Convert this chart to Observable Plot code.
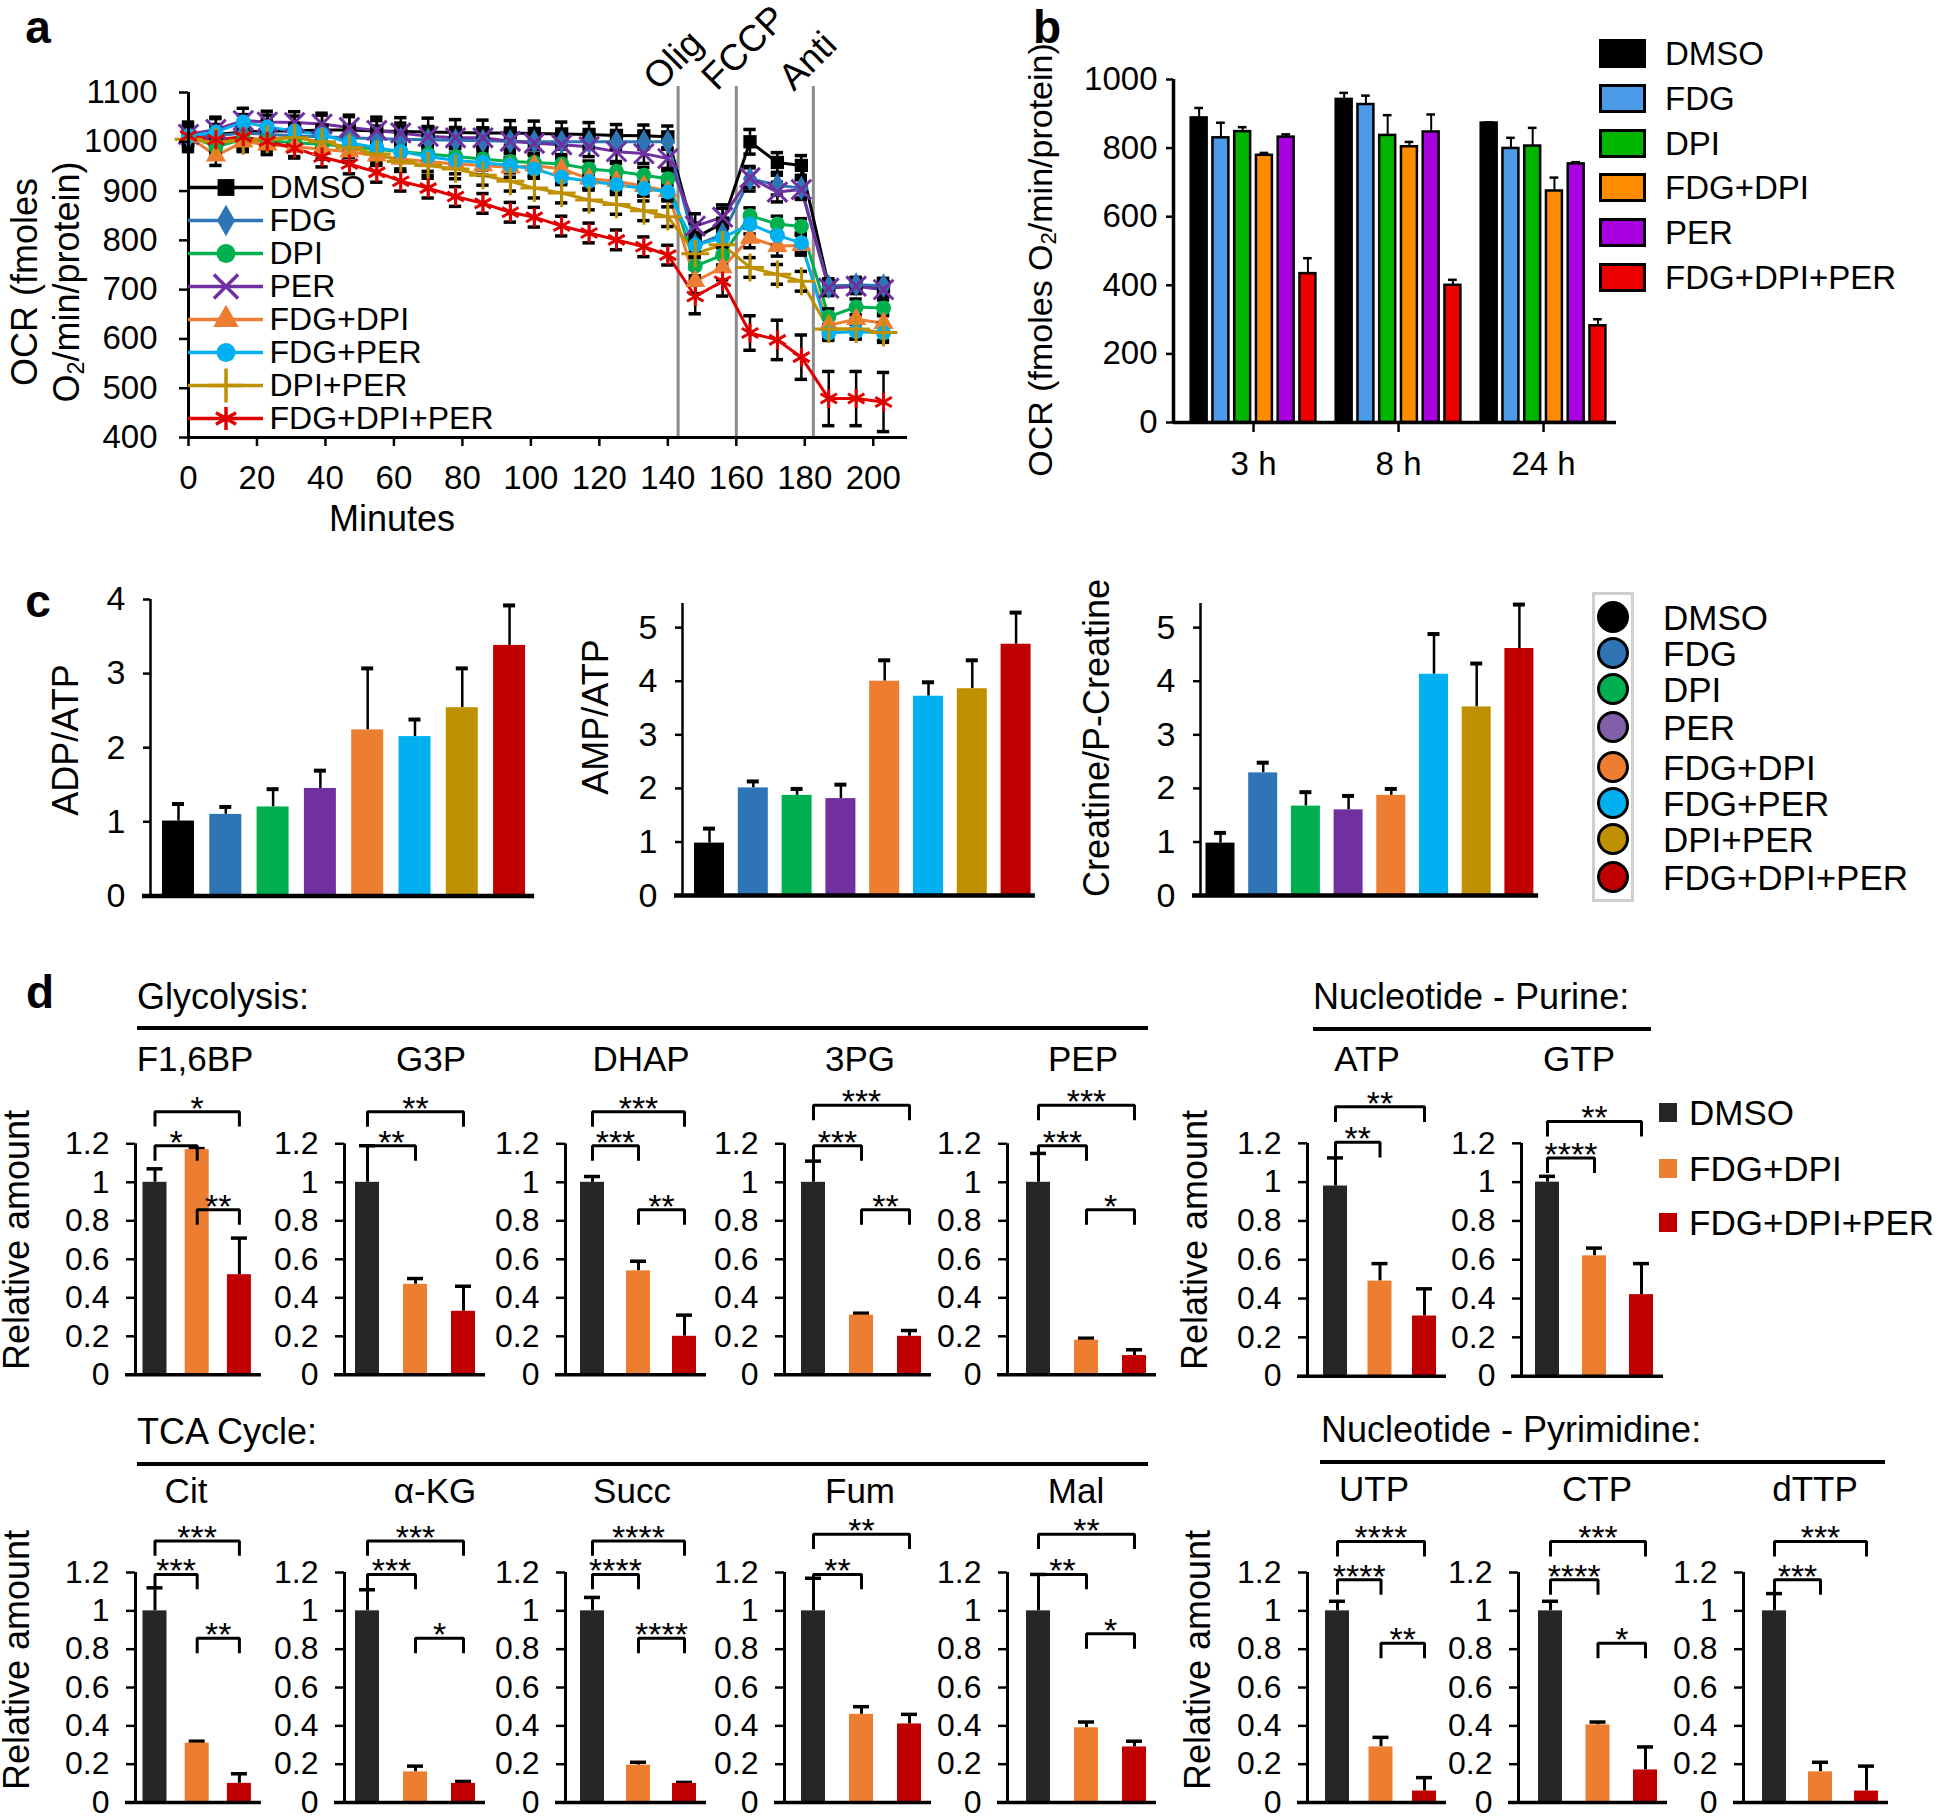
<!DOCTYPE html>
<html><head><meta charset="utf-8">
<script src="https://cdn.jsdelivr.net/npm/d3@7"></script>
<script src="https://cdn.jsdelivr.net/npm/@observablehq/plot@0.6"></script>
<style>
html,body{margin:0;padding:0;background:#fff;}
#root{position:relative;width:1946px;height:1817px;background:#fff;font-family:"Liberation Sans",Arial,Helvetica,sans-serif;color:#000;overflow:hidden;}
.abs{position:absolute;white-space:nowrap;line-height:1;}
sub{font-size:0.65em;vertical-align:-0.2em;line-height:0;}
</style></head><body><div id="root"></div>
<script>
// ================= DATA =================
// ---- Panel a : OCR time course ----
const timesA = [0,8,16,23,31,39,47,55,62,70,78,86,94,101,109,117,125,133,140,148,156,164,172,179,187,195,203];
const seriesA = ["DMSO","FDG","DPI","PER","FDG+DPI","FDG+PER","DPI+PER","FDG+DPI+PER"];
const ocrDMSO      = [1010,1015,1020,1022,1022,1024,1024,1022,1021,1020,1019,1018,1018,1017,1016,1015,1013,1012,1010,805,835,1000,958,952,707,708,706];
const ocrFDG       = [1010,1012,1018,1015,1012,1010,1008,1006,1005,1004,1003,1002,1001,1000,1000,1000,1000,1000,1000,790,812,925,912,906,706,710,708];
const ocrDPI       = [1012,990,1005,1002,998,995,990,985,980,975,970,965,960,958,955,945,940,932,925,748,770,850,833,828,645,665,663];
const ocrPER       = [1015,1025,1043,1040,1039,1036,1029,1023,1018,1011,1008,1008,1001,997,994,990,980,976,966,829,847,927,898,903,703,707,700];
const ocrFDGDPI    = [1010,972,1000,994,990,985,980,972,965,960,955,952,948,952,945,925,920,910,900,717,745,805,788,790,628,640,632];
const ocrFDGPER    = [1012,1020,1040,1030,1022,1015,998,988,980,970,962,958,952,945,928,920,913,905,898,790,805,833,810,795,612,615,612];
const ocrDPIPER    = [1005,1000,1002,1005,1008,1000,988,975,960,952,945,932,920,906,896,882,873,860,848,773,791,745,731,717,620,620,613];
const ocrFDGDPIPER = [1012,1004,1010,1001,987,969,955,938,920,906,889,875,857,847,829,815,801,787,770,686,717,612,598,563,479,479,472];
const errDMSO      = [30,35,35,32,30,30,30,28,28,28,26,26,25,25,24,24,22,22,22,30,30,25,20,20,15,15,15];
const errFDG       = [18,18,20,18,18,16,16,16,16,15,15,15,15,15,15,15,15,15,15,25,25,25,20,20,15,15,15];
const errDPI       = [16,16,16,16,16,16,16,16,16,16,16,16,16,16,16,16,16,16,16,20,20,16,16,16,16,16,16];
const errPER       = [20,22,25,22,22,22,22,20,20,20,20,20,20,20,20,20,20,20,20,25,25,20,20,20,15,15,15];
const errFDGDPI    = [20,20,20,20,20,20,20,20,20,20,20,20,20,20,20,20,20,20,20,25,25,20,20,20,20,20,20];
const errFDGPER    = [15,15,15,15,15,15,15,15,15,15,15,15,15,15,15,15,15,15,15,20,20,20,20,20,15,15,15];
const errDPIPER    = [20,20,20,20,20,20,20,20,20,20,20,20,20,20,20,20,20,20,20,25,25,20,20,20,20,20,20];
const errFDGDPIPER = [20,20,20,20,20,20,20,20,20,20,20,20,20,20,20,20,20,20,20,35,30,35,40,45,55,55,60];
const injections = ["Olig","FCCP","Anti"];
const injectionTimes = [143,160,182.5];
const ticksAX = [0,20,40,60,80,100,120,140,160,180,200];
const ticksAY = [400,500,600,700,800,900,1000,1100];

// ---- Panel b : OCR at 3/8/24 h ----
const groupsB = ["3 h","8 h","24 h"];
const seriesB = ["DMSO","FDG","DPI","FDG+DPI","PER","FDG+DPI+PER"];
const ocrB3h  = [888,830,848,779,832,434];
const ocrB8h  = [942,927,837,804,847,400];
const ocrB24h = [873,799,806,675,754,282];
const errB3h  = [29,44,13,7,8,45];
const errB8h  = [19,26,59,14,51,16];
const errB24h = [2,31,53,39,5,19];
const ticksB = [0,200,400,600,800,1000];

// ---- Panel c : energy ratios ----
const seriesC = ["DMSO","FDG","DPI","PER","FDG+DPI","FDG+PER","DPI+PER","FDG+DPI+PER"];
const adpAtp      = [1.01,1.10,1.20,1.45,2.24,2.15,2.54,3.38];
const adpAtpErr   = [0.23,0.10,0.24,0.24,0.83,0.23,0.53,0.54];
const ampAtp      = [0.98,2.01,1.87,1.81,4.00,3.72,3.86,4.69];
const ampAtpErr   = [0.27,0.12,0.12,0.26,0.39,0.26,0.53,0.59];
const creatine    = [0.98,2.29,1.67,1.60,1.87,4.13,3.52,4.61];
const creatineErr = [0.19,0.19,0.26,0.26,0.12,0.75,0.81,0.82];
const ticksC1 = [0,1,2,3,4];
const ticksC2 = [0,1,2,3,4,5];

// ---- Panel d : metabolites ----
const seriesD = ["DMSO","FDG+DPI","FDG+DPI+PER"];
const metabolites = ["F1,6BP","G3P","DHAP","3PG","PEP","ATP","GTP","Cit","α-KG","Succ","Fum","Mal","UTP","CTP","dTTP"];
const relDMSO   = [1.00,1.00,1.00,1.00,1.00,0.98,1.00,1.00,1.00,1.00,1.00,1.00,1.00,1.00,1.00];
const relFD     = [1.17,0.47,0.54,0.31,0.18,0.49,0.62,0.31,0.16,0.195,0.46,0.39,0.29,0.405,0.16];
const relFDP    = [0.52,0.33,0.20,0.20,0.10,0.31,0.42,0.10,0.10,0.10,0.41,0.29,0.06,0.17,0.06];
const errDDMSO  = [0.07,0.19,0.03,0.11,0.15,0.145,0.03,0.12,0.11,0.07,0.17,0.19,0.05,0.05,0.09];
const errDFD    = [0.005,0.03,0.05,0.01,0.01,0.09,0.04,0.01,0.03,0.015,0.04,0.03,0.05,0.015,0.05];
const errDFDP   = [0.19,0.13,0.11,0.03,0.03,0.14,0.16,0.05,0.01,0.005,0.05,0.03,0.07,0.12,0.13];
const sigTop    = ["*","**","***","***","***","**","**","***","***","****","**","**","****","***","***"];
const sigMid    = ["*","**","***","***","***","**","****","***","***","****","**","**","****","****","***"];
const sigLow    = ["**","","**","**","*","","","**","*","****","","*","**","*",""];
const ticksD = [0,0.2,0.4,0.6,0.8,1,1.2];

// ================= STYLE / LAYOUT =================
const FONT = '"Liberation Sans", Arial, Helvetica, sans-serif';
const colorsA = ["#000000","#2e75b6","#00b050","#7030a0","#ed7d31","#00b0f0","#bf9000","#e00000"];
const symbolsA = ["square","diamond","circle","times","triangle","circle","plus","asterisk"];
const filledA = [true,true,true,false,true,true,false,false];
const colorsB = ["#000000","#4b9be8","#00b400","#ff8c00","#a900e0","#ee0000"];
const colorsC = ["#000000","#2e75b6","#00b050","#7030a0","#ed7d31","#00b0f0","#bf9000","#c00000"];
const legendCFill = ["#000000","#2e75b6","#00b050","#8060a8","#ed7d31","#00b0f0","#bf9000","#c00000"];
const colorsD = ["#262626","#ed7d31","#c00000"];

const root = document.getElementById("root");
function mount(svg, left, top, fontSize) {
  svg.style.background = "transparent";
  svg.style.overflow = "visible";
  svg.style.maxWidth = "none";
  svg.style.position = "absolute";
  svg.style.left = left + "px";
  svg.style.top = top + "px";
  svg.style.fontFamily = FONT;
  svg.style.fontSize = fontSize + "px";
  root.appendChild(svg);
}
function txt(html, x, y, o = {}) {
  const d = document.createElement("div");
  d.className = "abs";
  d.innerHTML = html;
  d.style.left = x + "px"; d.style.top = y + "px";
  d.style.fontSize = (o.size || 35) + "px";
  d.style.fontWeight = o.weight || "normal";
  const a = o.anchor || "middle";
  const tx = a === "start" ? "0" : a === "end" ? "-100%" : "-50%";
  d.style.transform = `translate(${tx},-50%)` + (o.rotate ? ` rotate(${o.rotate}deg)` : "");
  root.appendChild(d);
  return d;
}
function box(x, y, w, h, css) {
  const d = document.createElement("div");
  d.style.position = "absolute";
  d.style.left = x + "px"; d.style.top = y + "px";
  d.style.width = w + "px"; d.style.height = h + "px";
  d.style.boxSizing = "border-box";
  Object.assign(d.style, css);
  root.appendChild(d);
  return d;
}
const hasAxisMarks = typeof Plot.axisY === "function";
function axisY(ticks, o) { return hasAxisMarks ? [Plot.axisY(ticks, {label: null, tickFormat: d => String(d), ...o})] : []; }
function axisX(ticks, o) { return hasAxisMarks ? [Plot.axisX(ticks, {label: null, ...o})] : []; }

// ================= PANEL a =================
{
  const ocrA = [ocrDMSO,ocrFDG,ocrDPI,ocrPER,ocrFDGDPI,ocrFDGPER,ocrDPIPER,ocrFDGDPIPER];
  const errA = [errDMSO,errFDG,errDPI,errPER,errFDGDPI,errFDGPER,errDPIPER,errFDGDPIPER];
  const rows = seriesA.map((s, si) => timesA.map((t, i) => ({s, t, v: ocrA[si][i], e: errA[si][i]})));
  const all = rows.flat();
  const inj = injections.map((label, i) => ({label, t: injectionTimes[i]}));
  const marks = [
    Plot.ruleX(inj, {x: "t", y1: 400, y2: 1112, stroke: "#8c8c8c", strokeWidth: 3}),
    Plot.text(inj, {x: "t", y: 1112, text: "label", rotate: -45, textAnchor: "start", fontSize: 37, dx: -28, dy: -3}),
  ];
  rows.forEach((r, si) => marks.push(Plot.line(r, {x: "t", y: "v", stroke: colorsA[si], strokeWidth: 3})));
  marks.push(Plot.ruleX(all, {x: "t", y1: d => d.v - d.e, y2: d => d.v + d.e, stroke: "#000", strokeWidth: 2.5}));
  marks.push(Plot.ruleY(all, {y: d => d.v - d.e, x1: d => d.t - 1.8, x2: d => d.t + 1.8, stroke: "#000", strokeWidth: 3.5}));
  marks.push(Plot.ruleY(all, {y: d => d.v + d.e, x1: d => d.t - 1.8, x2: d => d.t + 1.8, stroke: "#000", strokeWidth: 3.5}));
  rows.forEach((r, si) => marks.push(Plot.dot(r, filledA[si]
    ? {x: "t", y: "v", symbol: symbolsA[si], r: 7.5, fill: colorsA[si]}
    : {x: "t", y: "v", symbol: symbolsA[si], r: 9, fill: "none", stroke: colorsA[si], strokeWidth: 3})));
  marks.push(Plot.ruleX([0], {y1: 400, y2: 1100, strokeWidth: 3}));
  marks.push(Plot.ruleY([400], {x1: 0, x2: 210, strokeWidth: 3}));
  marks.push(...axisX(ticksAX, {tickSize: 9, tickPadding: 19, strokeWidth: 2.5}));
  marks.push(...axisY(ticksAY, {tickSize: 9, tickPadding: 22, strokeWidth: 2.5}));
  const svg = Plot.plot({
    width: 937, height: 497, marginLeft: 188, marginTop: 92, marginRight: 30, marginBottom: 60,
    x: {domain: [0, 210], ticks: ticksAX, tickSize: 9, label: null},
    y: {domain: [400, 1100], ticks: ticksAY, tickSize: 9, label: null},
    marks
  });
  mount(svg, 0, 0, 33);

  // legend (inside the plot)
  const lg = [
    Plot.ruleY(seriesA, {y: d => d, x1: 0, x2: 1, stroke: (d, i) => colorsA[i], strokeWidth: 3.5}),
    Plot.text(seriesA, {y: d => d, x: 1, text: d => d, textAnchor: "start", dx: 6, fontSize: 32})
  ];
  seriesA.forEach((s, si) => lg.push(Plot.dot([s], filledA[si]
    ? {y: d => d, x: 0.5, symbol: symbolsA[si], r: 9.5, fill: colorsA[si]}
    : {y: d => d, x: 0.5, symbol: symbolsA[si], r: 11, fill: "none", stroke: colorsA[si], strokeWidth: 3.5})));
  const leg = Plot.plot({
    width: 560, height: 448, marginLeft: 188, marginRight: 297, marginTop: 186, marginBottom: 30,
    x: {domain: [0, 1], axis: null}, y: {type: "point", domain: seriesA, padding: 0, axis: null},
    color: {type: "identity"}, marks: lg
  });
  mount(leg, 0, 0, 32);

  txt("a", 38, 27, {size: 46, weight: "bold"});
  txt("OCR (fmoles", 25, 282, {size: 36, rotate: -90});
  txt("O<sub>2</sub>/min/protein)", 67, 282, {size: 36, rotate: -90});
  txt("Minutes", 392, 519, {size: 36});
}

// ================= PANEL b =================
{
  const ocrB = [ocrB3h, ocrB8h, ocrB24h];
  const errB = [errB3h, errB8h, errB24h];
  const rows = groupsB.flatMap((g, gi) => seriesB.map((s, j) => ({g: gi, j, s, v: ocrB[gi][j], e: errB[gi][j]})));
  const cx = d => d.g + (d.j - 2.5) * 0.15;
  const xmin = -0.552, xmax = 2.503;
  const svg = Plot.plot({
    width: 583, height: 453, marginLeft: 120, marginRight: 20, marginTop: 30, marginBottom: 80,
    x: {domain: [xmin, xmax], ticks: [0, 1, 2], tickFormat: i => groupsB[i], label: null},
    y: {domain: [0, 1000], ticks: ticksB, label: null},
    color: {type: "identity"},
    marks: [
      Plot.ruleX(rows, {x: cx, y1: "v", y2: d => d.v + d.e, strokeWidth: 2}),
      Plot.ruleY(rows, {y: d => d.v + d.e, x1: d => cx(d) - 0.03, x2: d => cx(d) + 0.03, strokeWidth: 2.5}),
      Plot.rect(rows, {x1: d => cx(d) - 0.055, x2: d => cx(d) + 0.055, y1: 0, y2: "v", fill: d => colorsB[d.j], stroke: "#000", strokeWidth: 2.5}),
      Plot.ruleX([xmin], {y1: 0, y2: 1000, strokeWidth: 3.5}),
      Plot.ruleY([0], {x1: xmin, x2: xmax, strokeWidth: 3.5}),
      ...axisY(ticksB, {tickSize: 7, tickPadding: 9, strokeWidth: 2.5}),
      ...axisX([0, 1, 2], {tickSize: 10, tickPadding: 19, tickFormat: i => groupsB[i], strokeWidth: 2.5})
    ]
  });
  mount(svg, 1053, 49, 33);
  txt("b", 1047, 27, {size: 46, weight: "bold"});
  txt("OCR (fmoles O<sub>2</sub>/min/protein)", 1040, 260, {size: 34, rotate: -90});
  const ly = [53, 98, 143, 187, 232, 277];
  seriesB.forEach((s, i) => {
    box(1599, ly[i] - 14.5, 47, 29, {background: colorsB[i], border: "3px solid #000"});
    txt(s, 1665, ly[i], {size: 33, anchor: "start"});
  });
}

// ================= PANEL c =================
function cChart(vals, errs, ticks, L) {
  const rows = seriesC.map((s, i) => ({i, s, v: vals[i], e: errs[i]}));
  const xmin = -L.off / L.u, xmax = L.end;
  const W = (xmax - xmin) * L.u, H = L.ymax * L.k;
  const ML = 80, MR = 20, MT = 20, MB = 40;
  const bw = L.bw / L.u, cw = 6 / L.u;
  const svg = Plot.plot({
    width: ML + W + MR, height: MT + H + MB, marginLeft: ML, marginRight: MR, marginTop: MT, marginBottom: MB,
    x: {domain: [xmin, xmax], axis: null},
    y: {domain: [0, L.ymax], ticks, label: null},
    color: {type: "identity"},
    marks: [
      Plot.ruleX(rows, {x: "i", y1: "v", y2: d => d.v + d.e, strokeWidth: 2.5}),
      Plot.ruleY(rows, {y: d => d.v + d.e, x1: d => d.i - cw, x2: d => d.i + cw, strokeWidth: 4}),
      Plot.rect(rows, {x1: d => d.i - bw / 2, x2: d => d.i + bw / 2, y1: 0, y2: "v", fill: d => colorsC[d.i]}),
      Plot.ruleX([xmin], {y1: 0, y2: L.ymax, strokeWidth: 2.5}),
      Plot.ruleY([0], {x1: xmin - 8 / L.u, x2: xmax, strokeWidth: 4.5}),
      ...axisY(ticks, {tickSize: 7, tickPadding: 18, strokeWidth: 2.5})
    ]
  });
  mount(svg, L.axis - ML, L.y0 - H - MT, 34);
}
cChart(adpAtp, adpAtpErr, ticksC1, {axis: 150, y0: 895, k: 74.1, ymax: 4, off: 28, u: 47.3, end: 7.53, bw: 32});
cChart(ampAtp, ampAtpErr, ticksC2, {axis: 682, y0: 895, k: 53.6, ymax: 5.45, off: 27, u: 43.8, end: 7.44, bw: 30});
cChart(creatine, creatineErr, ticksC2, {axis: 1200, y0: 895, k: 53.6, ymax: 5.45, off: 20, u: 42.7, end: 7.45, bw: 29});
txt("c", 38, 601, {size: 46, weight: "bold"});
txt("ADP/ATP", 66, 740, {size: 36, rotate: -90});
txt("AMP/ATP", 596, 717, {size: 36, rotate: -90});
txt("Creatine/P-Creatine", 1097, 738, {size: 36, rotate: -90});
{
  box(1592, 592, 42, 310, {border: "3px solid #cfcfcf", background: "#fff"});
  const ly = [617, 653, 689, 727, 767, 803, 839, 877];
  seriesC.forEach((s, i) => {
    box(1597, ly[i] - 16, 32, 32, {background: legendCFill[i], border: "3px solid #000", borderRadius: "50%"});
    txt(s, 1663, ly[i], {size: 35, anchor: "start"});
  });
}

// ================= PANEL d =================
const dLayout = [
  {axis: 135,  y0: 1374, k: 192.5, off: 19.5, u: 42.2, top: 1.367, mid: 1.19,  low: 0.857},
  {axis: 344,  y0: 1374, k: 192.5, off: 23,   u: 48,   top: 1.367, mid: 1.19,  low: 0.857},
  {axis: 565,  y0: 1374, k: 192.5, off: 27,   u: 46,   top: 1.367, mid: 1.19,  low: 0.857},
  {axis: 784,  y0: 1374, k: 192.5, off: 29,   u: 48,   top: 1.40,  mid: 1.19,  low: 0.857},
  {axis: 1007, y0: 1374, k: 192.5, off: 31,   u: 48,   top: 1.40,  mid: 1.19,  low: 0.857},
  {axis: 1307, y0: 1376, k: 194,   off: 28,   u: 44.5, top: 1.388, mid: 1.205, low: 0.857},
  {axis: 1521, y0: 1376, k: 194,   off: 26,   u: 47,   top: 1.313, mid: 1.125, low: 0.857},
  {axis: 135,  y0: 1802, k: 191.7, off: 19.5, u: 42.2, top: 1.365, mid: 1.19,  low: 0.857},
  {axis: 344,  y0: 1802, k: 191.7, off: 23,   u: 48,   top: 1.365, mid: 1.19,  low: 0.857},
  {axis: 565,  y0: 1802, k: 191.7, off: 27,   u: 46,   top: 1.365, mid: 1.19,  low: 0.857},
  {axis: 784,  y0: 1802, k: 191.7, off: 29,   u: 48,   top: 1.40,  mid: 1.19,  low: 0.857},
  {axis: 1007, y0: 1802, k: 191.7, off: 31,   u: 48,   top: 1.40,  mid: 1.19,  low: 0.88},
  {axis: 1307, y0: 1802, k: 191.7, off: 30,   u: 43.5, top: 1.362, mid: 1.162, low: 0.831},
  {axis: 1518, y0: 1802, k: 191.7, off: 32,   u: 47.5, top: 1.362, mid: 1.162, low: 0.831},
  {axis: 1743, y0: 1802, k: 191.7, off: 31,   u: 46,   top: 1.362, mid: 1.162, low: 0.831}
];
function dChart(mi) {
  const L = dLayout[mi];
  const ML = 80, MR = 40, MT = 10, MB = 30;
  const xmin = -L.off / L.u, xmax = 2 + 22 / L.u;
  const W = (xmax - xmin) * L.u;
  const ymax = 1.56, H = ymax * L.k;
  const means = [relDMSO, relFD, relFDP], errs = [errDDMSO, errDFD, errDFDP];
  const rows = seriesD.map((s, i) => ({i, s, v: means[i][mi], e: errs[i][mi]}));
  const br = [];
  if (sigTop[mi]) br.push({a: 0, b: 2, l: L.top, s: sigTop[mi]});
  if (sigMid[mi]) br.push({a: 0, b: 1, l: L.mid, s: sigMid[mi]});
  if (sigLow[mi]) br.push({a: 1, b: 2, l: L.low, s: sigLow[mi]});
  const drop = 0.07;
  const pts = br.flatMap((b, j) => [
    {x: b.a, y: b.l - drop, z: j}, {x: b.a, y: b.l, z: j}, {x: b.b, y: b.l, z: j}, {x: b.b, y: b.l - drop, z: j}]);
  const bw = 24 / L.u, cw = 8 / L.u;
  const svg = Plot.plot({
    width: ML + W + MR, height: MT + H + MB, marginLeft: ML, marginRight: MR, marginTop: MT, marginBottom: MB,
    x: {domain: [xmin, xmax], axis: null},
    y: {domain: [0, ymax], ticks: ticksD, tickFormat: d => String(d), label: null},
    color: {type: "identity"},
    marks: [
      Plot.ruleX(rows, {x: "i", y1: "v", y2: d => d.v + d.e, strokeWidth: 3}),
      Plot.ruleY(rows, {y: d => d.v + d.e, x1: d => d.i - cw, x2: d => d.i + cw, strokeWidth: 3.5}),
      Plot.rect(rows, {x1: d => d.i - bw / 2, x2: d => d.i + bw / 2, y1: 0, y2: "v", fill: d => colorsD[d.i]}),
      Plot.line(pts, {x: "x", y: "y", z: "z", stroke: "#000", strokeWidth: 3, strokeLinejoin: "miter", strokeLinecap: "square"}),
      Plot.text(br, {x: d => (d.a + d.b) / 2, y: "l", text: "s", fontSize: 34, lineAnchor: "middle", dy: -3}),
      Plot.ruleX([xmin], {y1: 0, y2: 1.2, strokeWidth: 3}),
      Plot.ruleY([0], {x1: xmin - 10 / L.u, x2: xmax, strokeWidth: 3.5}),
      ...axisY(ticksD, {tickSize: 9, tickPadding: 17, strokeWidth: 2.5})
    ]
  });
  mount(svg, L.axis - ML, L.y0 - H - MT, 32);
}
metabolites.forEach((m, i) => dChart(i));

// d headers & labels
txt("d", 40, 992, {size: 46, weight: "bold"});
txt("Glycolysis:", 137, 997, {size: 36, anchor: "start"});
box(137, 1026, 1011, 4, {background: "#000"});
txt("Nucleotide - Purine:", 1313, 997, {size: 36, anchor: "start"});
box(1313, 1027, 338, 4, {background: "#000"});
txt("TCA Cycle:", 137, 1432, {size: 36, anchor: "start"});
box(137, 1462, 1011, 4, {background: "#000"});
txt("Nucleotide - Pyrimidine:", 1321, 1430, {size: 36, anchor: "start"});
box(1320, 1460, 565, 4, {background: "#000"});
const nameX = [195, 431, 641, 860, 1083, 1367, 1579, 186, 435, 632, 860, 1076, 1374, 1597, 1815];
const nameY = [1058, 1058, 1058, 1058, 1058, 1058, 1058, 1490, 1490, 1490, 1490, 1490, 1488, 1488, 1488];
metabolites.forEach((m, i) => txt(m, nameX[i], nameY[i], {size: 35}));
txt("Relative amount", 17, 1240, {size: 36, rotate: -90});
txt("Relative amount", 1195, 1240, {size: 36, rotate: -90});
txt("Relative amount", 17, 1660, {size: 36, rotate: -90});
txt("Relative amount", 1198, 1660, {size: 36, rotate: -90});
{
  const ly = [1112, 1168, 1222];
  seriesD.forEach((s, i) => {
    box(1659, ly[i] - 9.5, 18, 19, {background: colorsD[i]});
    txt(s, 1689, ly[i], {size: 35, anchor: "start"});
  });
}
</script></body></html>
